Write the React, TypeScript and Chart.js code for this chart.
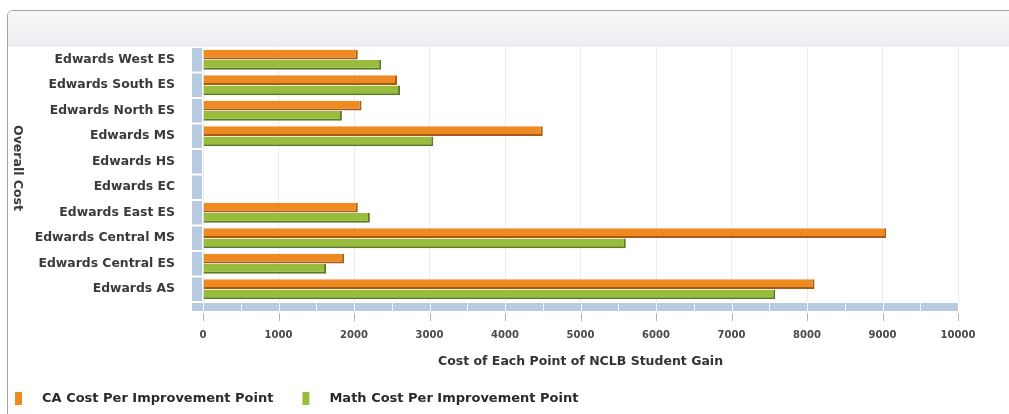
import { useEffect, useRef } from "react"
import { Chart, type ChartConfiguration, registerables } from "chart.js"

Chart.register(...registerables)

const schools = [
  "Edwards West ES",
  "Edwards South ES",
  "Edwards North ES",
  "Edwards MS",
  "Edwards HS",
  "Edwards EC",
  "Edwards East ES",
  "Edwards Central MS",
  "Edwards Central ES",
  "Edwards AS",
]
const caCost = [2050, 2570, 2100, 4500, 0, 0, 2050, 9050, 1870, 8100]
const mathCost = [2360, 2610, 1840, 3050, 0, 0, 2210, 5600, 1630, 7580]
const costTicks = [0, 1000, 2000, 3000, 4000, 5000, 6000, 7000, 8000, 9000, 10000]

const FONT = "DejaVu Sans"
const ORANGE = "#ee8a22"
const ORANGE_DARK = "#a85a18"
const GREEN = "#98bd3c"
const GREEN_DARK = "#5b7a24"
const WALL = "#b9cbe0"

// fake 3d wall + floor, like the old flash chart
const depthPlugin = {
  id: "depth",
  beforeDatasetsDraw(chart: Chart) {
    const { ctx, chartArea } = chart
    const xs = chart.scales.x
    const ys = chart.scales.y
    const band = (chartArea.bottom - chartArea.top) / schools.length
    ctx.save()
    schools.forEach((_, i) => {
      const cy = ys.getPixelForValue(i)
      ctx.fillStyle = WALL
      ctx.fillRect(chartArea.left - 11, cy - band / 2 + 1, 10, band - 2)
    })
    const x0 = xs.getPixelForValue(costTicks[0])
    const x1 = xs.getPixelForValue(costTicks[costTicks.length - 1])
    const fy = chartArea.bottom + 1
    ctx.fillStyle = WALL
    ctx.fillRect(x0 - 11, fy, x1 - x0 + 11, 8)
    ctx.strokeStyle = "rgba(255,255,255,0.8)"
    ctx.lineWidth = 1
    for (let v = 0; v < costTicks[costTicks.length - 1]; v += 500) {
      const px = Math.round(xs.getPixelForValue(v)) + 0.5
      ctx.beginPath()
      ctx.moveTo(px, fy)
      ctx.lineTo(px, fy + 8)
      ctx.stroke()
    }
    ctx.strokeStyle = "#b5b5b5"
    costTicks.forEach((v) => {
      const px = Math.round(xs.getPixelForValue(v)) + 0.5
      ctx.beginPath()
      ctx.moveTo(px, fy + 10)
      ctx.lineTo(px, fy + 18)
      ctx.stroke()
    })
    ctx.restore()
  },
  afterDraw(chart: Chart) {
    const { ctx } = chart
    ctx.save()
    // y title, reads top to bottom
    ctx.translate(17, 168)
    ctx.rotate(Math.PI / 2)
    ctx.fillStyle = "#3a3a3a"
    ctx.font = `bold 12.5px "${FONT}"`
    ctx.textAlign = "center"
    ctx.textBaseline = "middle"
    ctx.fillText("Overall Cost", 0, 0)
    ctx.restore()

    // legend
    ctx.save()
    ctx.font = `bold 13px "${FONT}"`
    ctx.textBaseline = "middle"
    let x = 15
    chart.data.datasets.forEach((ds) => {
      ctx.fillStyle = ds.backgroundColor as string
      ctx.fillRect(x, 392, 7, 13)
      ctx.fillStyle = "#2a2a2a"
      ctx.fillText(ds.label as string, x + 27, 399)
      x += 27 + ctx.measureText(ds.label as string).width + 29
    })
    ctx.restore()
  },
}

function CostChart() {
  const chartRef = useRef<HTMLCanvasElement>(null)

  useEffect(() => {
    if (!chartRef.current) return
    const ctx = chartRef.current.getContext("2d")
    if (!ctx) return

    const config: ChartConfiguration<"bar"> = {
      type: "bar",
      data: {
        labels: schools,
        datasets: [
          {
            label: "CA Cost Per Improvement Point",
            data: caCost,
            backgroundColor: ORANGE,
            borderColor: ORANGE_DARK,
            borderWidth: { top: 0, left: 0, right: 2, bottom: 2 },
            borderSkipped: false,
            categoryPercentage: 0.8,
            barPercentage: 0.96,
          },
          {
            label: "Math Cost Per Improvement Point",
            data: mathCost,
            backgroundColor: GREEN,
            borderColor: GREEN_DARK,
            borderWidth: { top: 0, left: 0, right: 2, bottom: 2 },
            borderSkipped: false,
            categoryPercentage: 0.8,
            barPercentage: 0.96,
          },
        ],
      },
      options: {
        indexAxis: "y",
        responsive: false,
        animation: false,
        layout: { padding: { top: 47, right: 51, left: 0, bottom: 32 } },
        scales: {
          x: {
            min: 0,
            max: 10000,
            afterBuildTicks: (scale) => {
              scale.ticks = costTicks.map((v) => ({ value: v }))
            },
            afterFit: (scale) => {
              scale.height = 80
            },
            grid: { color: "#ececec", drawTicks: false },
            border: { display: false },
            ticks: {
              padding: 27,
              color: "#4a4a4a",
              font: { family: FONT, size: 10, weight: "bold" },
              callback: (value) => String(value),
            },
            title: {
              display: true,
              text: "Cost of Each Point of NCLB Student Gain",
              color: "#333",
              font: { family: FONT, size: 12.5, weight: "bold" },
              padding: { top: 0, bottom: 12.5 },
            },
          },
          y: {
            afterFit: (scale) => {
              scale.width = 203
            },
            grid: { display: false, drawTicks: false },
            border: { display: false },
            ticks: {
              padding: 28,
              color: "#3a3a3a",
              font: { family: FONT, size: 12.4, weight: "bold" },
            },
          },
        },
        plugins: {
          legend: { display: false },
          tooltip: { enabled: false },
        },
      },
      plugins: [depthPlugin],
    }

    const chart = new Chart(ctx, config)
    return () => chart.destroy()
  }, [])

  return <canvas ref={chartRef} width={1009} height={414} style={{ display: "block" }} />
}

export default function App() {
  return (
    <div style={{ position: "absolute", left: 0, top: 0, width: 1009, height: 414, overflow: "hidden", background: "#fff" }}>
      <div
        style={{
          position: "absolute",
          left: 7,
          top: 10,
          width: 1100,
          height: 500,
          border: "1px solid #a3a3a3",
          borderRadius: 6,
          overflow: "hidden",
        }}
      >
        <div style={{ height: 36, background: "linear-gradient(#f8f8f9, #ebedf0)" }} />
      </div>
      <div style={{ position: "absolute", left: 0, top: 0 }}>
        <CostChart />
      </div>
    </div>
  )
}
